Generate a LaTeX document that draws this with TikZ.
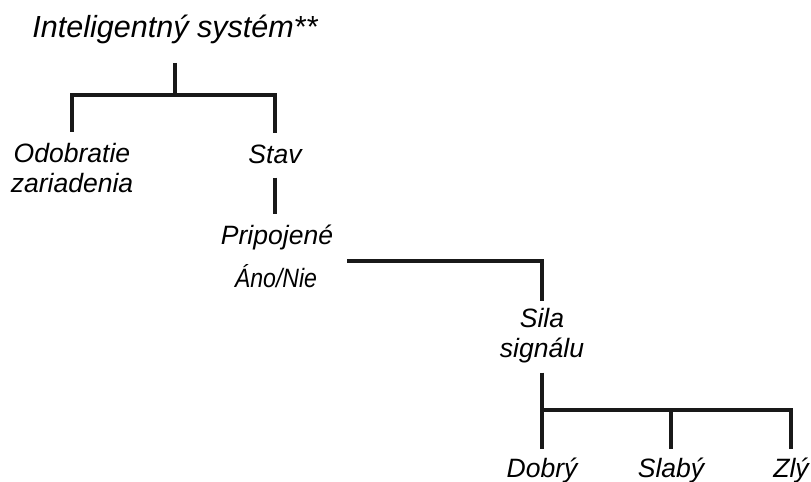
\documentclass[tikz,border=0pt]{standalone}
\usepackage{fontspec}
\setmainfont{Liberation Sans}

\begin{document}
\begin{tikzpicture}[x=0.75pt,y=-0.75pt,
  lbl/.style={font=\fontsize{19.9pt}{22.5pt}\selectfont\itshape, inner sep=0pt, align=center},
  ttl/.style={font=\fontsize{22.9pt}{27pt}\selectfont\itshape, inner sep=0pt},
  link/.style={line width=2.6pt, black!90}]
  \useasboundingbox (0,0) rectangle (811,482);

  % Top level
  \node[ttl,anchor=base] (sys) at (175,37) {Inteligentný systém**};
  \coordinate (jsys) at (175,95);
  \node[lbl,anchor=north] (odob) at (72,143) {Odobratie\\zariadenia};
  \node[lbl,anchor=base] (stav) at (275,163) {Stav};
  \draw[link,shorten <=14.5pt] (sys.south) -- (jsys);
  \draw[link,shorten >=8pt] (jsys) -| (odob.north);
  \draw[link,shorten >=8.5pt] (jsys) -| (stav.north);

  % Status branch
  \node[lbl,anchor=base] (pripoj) at (277,244) {Pripojené};
  \node[lbl,anchor=base] (ano) at (276,287) {\scalebox{0.87}[1]{Áno/Nie}};
  \node[lbl,anchor=north] (sila) at (542,308) {Sila\\signálu};
  \draw[link,shorten <=10.5pt,shorten >=8pt] (stav.south) -- (stav.south |- pripoj.north);
  \draw[link,shorten >=5pt] ([xshift=22.5pt,yshift=2pt]ano.north east) -| (sila.north);

  % Signal strength
  \coordinate (jsila) at (542,410);
  \node[lbl,anchor=base] (dobry) at (542,477) {Dobrý};
  \node[lbl,anchor=base] (slaby) at (671,477) {Slabý};
  \node[lbl,anchor=base] (zly) at (791,477) {Zlý};
  \draw[link,shorten <=7pt] (sila.south) -- (jsila);
  \draw[link,shorten >=6.5pt] (jsila) -- (dobry.north);
  \draw[link,shorten >=6.5pt] (jsila) -| (slaby.north);
  \draw[link,shorten >=6.5pt] (jsila) -| (zly.north);
\end{tikzpicture}
\end{document}
